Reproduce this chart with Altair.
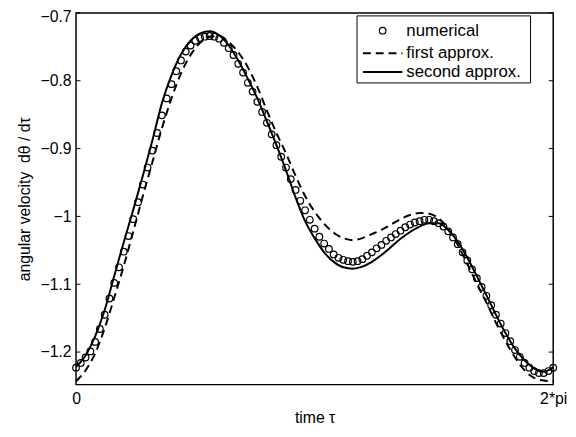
import math
import altair as alt
import pandas as pd

TWO_PI = 2 * math.pi

# x positions as fraction of one period (tau / 2pi)
frac_line = [0.00, 0.02, 0.04, 0.06, 0.08, 0.10, 0.12, 0.14, 0.16, 0.18,
             0.20, 0.22, 0.24, 0.26, 0.28, 0.30, 0.32, 0.34, 0.36, 0.38,
             0.40, 0.42, 0.44, 0.46, 0.48, 0.50, 0.52, 0.54, 0.56, 0.58,
             0.60, 0.62, 0.64, 0.66, 0.68, 0.70, 0.72, 0.74, 0.76, 0.78,
             0.80, 0.82, 0.84, 0.86, 0.88, 0.90, 0.92, 0.94, 0.96, 0.98,
             1.00]

second_approx = [-1.222, -1.205, -1.177, -1.138, -1.088, -1.038, -0.990, -0.940, -0.888, -0.833,
                 -0.792, -0.761, -0.741, -0.730, -0.727, -0.733, -0.748, -0.770, -0.797, -0.826,
                 -0.860, -0.895, -0.932, -0.972, -1.007, -1.032, -1.053, -1.067, -1.075, -1.077,
                 -1.074, -1.067, -1.057, -1.045, -1.033, -1.023, -1.015, -1.010, -1.010, -1.020,
                 -1.037, -1.061, -1.088, -1.116, -1.145, -1.172, -1.195, -1.212, -1.224, -1.229,
                 -1.222]

first_approx = [-1.243, -1.227, -1.202, -1.165, -1.120, -1.073, -1.022, -0.970, -0.920, -0.870,
                -0.826, -0.789, -0.762, -0.744, -0.735, -0.734, -0.743, -0.758, -0.780, -0.809,
                -0.844, -0.877, -0.907, -0.940, -0.970, -0.993, -1.011, -1.024, -1.032, -1.035,
                -1.032, -1.026, -1.020, -1.012, -1.004, -0.998, -0.995, -0.996, -1.003, -1.018,
                -1.042, -1.070, -1.099, -1.127, -1.157, -1.184, -1.208, -1.227, -1.238, -1.242,
                -1.243]

frac_num = [0.00, 0.01, 0.02, 0.03, 0.04, 0.05, 0.06, 0.07, 0.08, 0.09,
            0.10, 0.11, 0.12, 0.13, 0.14, 0.15, 0.16, 0.17, 0.18, 0.19,
            0.20, 0.21, 0.22, 0.23, 0.24, 0.25, 0.26, 0.27, 0.28, 0.29,
            0.30, 0.31, 0.32, 0.33, 0.34, 0.35, 0.36, 0.37, 0.38, 0.39,
            0.40, 0.41, 0.42, 0.43, 0.44, 0.45, 0.46, 0.47, 0.48, 0.49,
            0.50, 0.51, 0.52, 0.53, 0.54, 0.55, 0.56, 0.57, 0.58, 0.59,
            0.60, 0.61, 0.62, 0.63, 0.64, 0.65, 0.66, 0.67, 0.68, 0.69,
            0.70, 0.71, 0.72, 0.73, 0.74, 0.75, 0.76, 0.77, 0.78, 0.79,
            0.80, 0.81, 0.82, 0.83, 0.84, 0.85, 0.86, 0.87, 0.88, 0.89,
            0.90, 0.91, 0.92, 0.93, 0.94, 0.95, 0.96, 0.97, 0.98, 0.99,
            1.00]

numerical = [-1.223, -1.216, -1.208, -1.199, -1.185, -1.166, -1.145, -1.121, -1.098, -1.075,
             -1.052, -1.029, -1.004, -0.979, -0.953, -0.928, -0.903, -0.877, -0.851, -0.826,
             -0.805, -0.786, -0.770, -0.757, -0.748, -0.741, -0.737, -0.735, -0.734, -0.735,
             -0.738, -0.744, -0.752, -0.762, -0.775, -0.788, -0.803, -0.816, -0.831, -0.846,
             -0.862, -0.879, -0.895, -0.912, -0.928, -0.945, -0.961, -0.977, -0.991, -1.005,
             -1.018, -1.030, -1.040, -1.048, -1.056, -1.061, -1.064, -1.066, -1.067, -1.066,
             -1.063, -1.058, -1.053, -1.047, -1.042, -1.036, -1.031, -1.026, -1.021, -1.016,
             -1.012, -1.009, -1.007, -1.005, -1.005, -1.007, -1.010, -1.015, -1.022, -1.031,
             -1.041, -1.053, -1.065, -1.078, -1.091, -1.104, -1.117, -1.131, -1.145, -1.158,
             -1.172, -1.184, -1.197, -1.207, -1.216, -1.223, -1.228, -1.231, -1.231, -1.228,
             -1.223]

y_tick_values = [-1.2, -1.1, -1.0, -0.9, -0.8, -0.7]
x_tick_labels = ["0", "2*pi"]
legend_labels = ["numerical", "first approx.", "second approx."]
x_title = "time τ"
y_title = "angular velocity\u00a0 dθ / dτ"

lines_df = pd.DataFrame({
    "tau": [f * TWO_PI for f in frac_line],
    "second": second_approx,
    "first": first_approx,
})
num_df = pd.DataFrame({"tau": [f * TWO_PI for f in frac_num], "value": numerical})
ticks_df = pd.DataFrame({"v": y_tick_values})
one_df = pd.DataFrame({"k": [0]})

FONT = "Liberation Sans"
FS = 16
W, H = 484, 377

x_scale = alt.Scale(domain=[0, TWO_PI], nice=False, zero=False)
y_scale = alt.Scale(domain=[-1.248, -0.7], nice=False, zero=False)

x_axis = alt.Axis(
    values=[0, TWO_PI],
    labelExpr=f"datum.value < 1 ? '{x_tick_labels[0]}' : '{x_tick_labels[1]}'",
    title=x_title, ticks=False, domain=False, grid=False,
    labelPadding=6, labelFontSize=FS, labelFont=FONT, labelColor="black",
    labelFlush=False, labelOverlap=False,
    titleFontSize=FS, titleFont=FONT, titleFontWeight="normal", titleColor="black",
    titleX=W / 2, titleY=33, titleBaseline="middle", titleAlign="center",
)
y_axis = alt.Axis(
    values=y_tick_values,
    labelExpr="datum.value == -1 ? '\u22121' : '\u2212' + format(abs(datum.value), '.1f')",
    title=y_title, ticks=False, domain=False, grid=False,
    labelPadding=5, labelFontSize=FS, labelFont=FONT, labelColor="black",
    labelFlush=False, labelOverlap=False,
    labelOffset={"condition": {"test": "datum.value > -0.75", "value": 4}, "value": 0},
    titleFontSize=FS, titleFont=FONT, titleFontWeight="normal", titleColor="black",
    titleX=-52, titleY=H / 2, titleAngle=270, titleBaseline="middle", titleAlign="center",
)

x_enc = alt.X("tau:Q", scale=x_scale, axis=x_axis)

numerical_layer = alt.Chart(num_df).mark_point(
    shape="circle", filled=False, size=45, strokeWidth=1.2, color="black", opacity=1
).encode(x=x_enc, y=alt.Y("value:Q", scale=y_scale, axis=y_axis))

first_layer = alt.Chart(lines_df).mark_line(
    color="black", strokeWidth=2, strokeDash=[8, 5], interpolate="monotone"
).encode(x=x_enc, y=alt.Y("first:Q", scale=y_scale, axis=y_axis))

second_layer = alt.Chart(lines_df).mark_line(
    color="black", strokeWidth=2, interpolate="monotone"
).encode(x=x_enc, y=alt.Y("second:Q", scale=y_scale, axis=y_axis))

tick_left = alt.Chart(ticks_df).mark_rule(color="black", strokeWidth=1).encode(
    y=alt.Y("v:Q", scale=y_scale, axis=y_axis), x=alt.value(0), x2=alt.value(4.5))
tick_right = alt.Chart(ticks_df).mark_rule(color="black", strokeWidth=1).encode(
    y=alt.Y("v:Q", scale=y_scale, axis=y_axis), x=alt.value(W - 4.5), x2=alt.value(W))

# legend (drawn as a box on top of the plot)
leg_box = alt.Chart(one_df).mark_rect(fill="white", stroke="black", strokeWidth=1).encode(
    x=alt.value(285), x2=alt.value(461), y=alt.value(3), y2=alt.value(71))
leg_pt = alt.Chart(one_df).mark_point(
    shape="circle", filled=False, size=45, strokeWidth=1.2, color="black", opacity=1
).encode(x=alt.value(311), y=alt.value(18))
leg_dash = alt.Chart(one_df).mark_rule(color="black", strokeWidth=2, strokeDash=[8, 5]).encode(
    x=alt.value(291), x2=alt.value(331), y=alt.value(41))
leg_solid = alt.Chart(one_df).mark_rule(color="black", strokeWidth=2).encode(
    x=alt.value(291), x2=alt.value(331), y=alt.value(60))
leg_texts = [
    alt.Chart(one_df).mark_text(align="left", baseline="middle", fontSize=17, font=FONT, color="black")
    .encode(x=alt.value(335), y=alt.value(yy), text=alt.value(lbl))
    for lbl, yy in zip(legend_labels, [18, 41, 60])
]

chart = alt.layer(
    numerical_layer, first_layer, second_layer, tick_left, tick_right,
    leg_box, leg_pt, leg_dash, leg_solid, *leg_texts
).properties(
    width=W, height=H,
    autosize=alt.AutoSizeParams(type="none"),
    padding={"left": 69, "top": 2, "right": 15, "bottom": 42},
    background="white",
).configure_view(stroke="black", strokeWidth=1.5)

chart.save("out.html", embed_options={"renderer": "svg", "actions": False})
